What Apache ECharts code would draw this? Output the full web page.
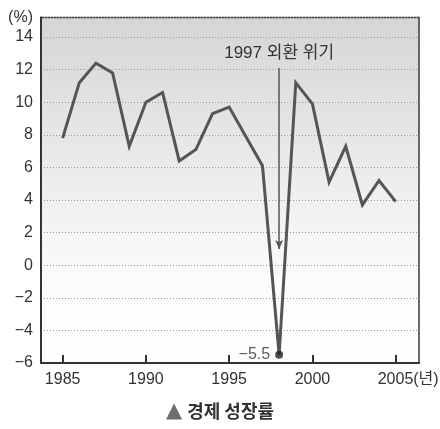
<!DOCTYPE html>
<html>
<head>
<meta charset="utf-8">
<script src="https://cdn.jsdelivr.net/npm/echarts@6/dist/echarts.min.js"></script>
<style>
  html, body { margin: 0; padding: 0; background: #ffffff; }
  #chart { width: 440px; height: 429px; }
</style>
</head>
<body>
<div id="chart"></div>
<script>
// Annual economic growth rate (%), 1985–2005
const years = [1985, 1986, 1987, 1988, 1989, 1990, 1991, 1992, 1993, 1994, 1995,
               1996, 1997, 1998, 1999, 2000, 2001, 2002, 2003, 2004, 2005];
const growth = [7.8, 11.2, 12.4, 11.8, 7.3, 10.0, 10.6, 6.4, 7.1, 9.3, 9.7,
                7.9, 6.1, -5.5, 11.2, 9.9, 5.1, 7.3, 3.7, 5.2, 3.9];
const xTickYears = [1985, 1990, 1995, 2000, 2005];
const yTicks = [-6, -4, -2, 0, 2, 4, 6, 8, 10, 12, 14];
const xUnit = '(년)';
const yUnit = '(%)';

// Highlighted crisis point and its callout
const crisisYear = 1998;
const crisisValue = -5.5;
const crisisText = '1997 외환 위기';
const arrowFrom = 12.1;
const arrowTo = 1.0;

const font = "'Liberation Sans', 'Noto Sans CJK KR', sans-serif";
const ink = '#333333';

const lineData = years.map((y, i) => [y, growth[i]]);
const lastYear = xTickYears[xTickYears.length - 1];

const chart = echarts.init(document.getElementById('chart'), null, { renderer: 'canvas' });
chart.setOption({
  animation: false,
  backgroundColor: '#ffffff',
  title: {
    text: '{tri|▲} {b|경제 성장률}',
    left: 'center',
    bottom: 2,
    textStyle: {
      fontSize: 18,
      rich: {
        tri: { color: '#6e6e6e', fontSize: 21, fontFamily: "'DejaVu Sans', sans-serif" },
        b: { color: '#333', fontSize: 18, fontWeight: 'bold', fontFamily: "'Noto Sans CJK KR', sans-serif" }
      }
    }
  },
  grid: {
    left: 41, top: 17.5, right: 21, bottom: 66,
    outerBoundsMode: 'none',
    containLabel: false,
    show: true,
    borderColor: '#3a3a3a',
    borderWidth: 1.5,
    backgroundColor: new echarts.graphic.LinearGradient(0, 0, 0, 1, [
      { offset: 0, color: '#d4d5d7' },
      { offset: 0.75, color: '#fbfbfb' },
      { offset: 1, color: '#ffffff' }
    ])
  },
  xAxis: {
    type: 'value',
    min: 1983.7,
    max: 2006.4,
    axisLine: { onZero: false, lineStyle: { color: '#333', width: 2 } },
    axisTick: {
      show: true, inside: true, length: 8,
      customValues: xTickYears,
      lineStyle: { color: '#333', width: 2 }
    },
    axisLabel: {
      customValues: xTickYears,
      color: ink, fontSize: 16, fontFamily: font, margin: 9,
      // the last year carries the unit; a blank pad keeps the year centred on its tick
      formatter: v => (v === lastYear ? '{pad|}' + v + '{u|' + xUnit + '}' : String(v)),
      rich: {
        pad: { width: 25 },
        u: { color: ink, fontSize: 16, fontFamily: font }
      }
    },
    splitLine: { show: false }
  },
  yAxis: {
    type: 'value',
    min: -6,
    max: 15.2,
    interval: 2,
    name: yUnit,
    nameLocation: 'end',
    nameGap: 0,
    nameTextStyle: {
      color: ink, fontSize: 16, fontFamily: font,
      align: 'right', verticalAlign: 'middle', padding: [0, 8, 0, 0]
    },
    axisLine: { show: true, onZero: false, lineStyle: { color: '#333', width: 2 } },
    axisTick: { show: false },
    axisLabel: {
      customValues: yTicks,
      color: ink, fontSize: 16, fontFamily: font, margin: 8,
      formatter: v => (v < 0 ? '\u2212' + Math.abs(v) : String(v))
    },
    splitLine: { show: true, lineStyle: { color: '#9a9a9a', width: 1, type: [1, 2] } }
  },
  series: [
    {
      type: 'line',
      data: lineData,
      showSymbol: false,
      symbol: 'none',
      lineStyle: { color: '#555555', width: 3, join: 'miter' },
      z: 3,
      markLine: {
        silent: true,
        symbol: ['none', 'arrow'],
        symbolSize: [6, 9],
        lineStyle: { color: '#555555', width: 1.5, type: 'solid' },
        label: {
          show: true,
          position: 'start',
          distance: 6,
          formatter: crisisText,
          color: ink, fontSize: 17, fontFamily: font
        },
        data: [[
          { coord: [crisisYear, arrowFrom] },
          { coord: [crisisYear, arrowTo] }
        ]]
      }
    },
    {
      type: 'scatter',
      data: [[crisisYear, crisisValue]],
      symbol: 'circle',
      symbolSize: 8,
      itemStyle: { color: '#222222' },
      z: 4,
      label: {
        show: true,
        position: 'left',
        distance: 5,
        formatter: p => '\u2212' + Math.abs(p.value[1]),
        color: ink, fontSize: 16, fontFamily: font
      }
    }
  ]
});
</script>
</body>
</html>
